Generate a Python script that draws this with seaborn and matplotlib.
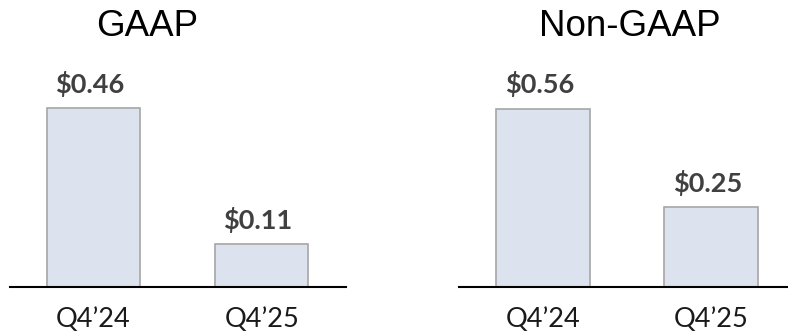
import matplotlib
matplotlib.use("Agg")
import matplotlib.pyplot as plt
import seaborn as sns
import pandas as pd

periods = ["Q4\u201924", "Q4\u201925"]
gaap_eps = [0.46, 0.11]
nongaap_eps = [0.56, 0.25]
panel_titles = ["GAAP", "Non-GAAP"]

sns.set_theme(style="white")
plt.rcParams["font.family"] = ["Lato", "DejaVu Sans"]

fig = plt.figure(figsize=(7.88, 3.34), dpi=100)
W, H = 788.0, 334.0

# axes rectangles in pixels: left, baseline(bottom), right, top
base_y = 287.0
top_y = 108.5
frac = 0.80  # fraction of axes height used by tallest bar
ax_h = (base_y - top_y) / frac
specs = [
    (9.5, 345.7, -0.5, 1.5, gaap_eps),
    (459.0, 795.0, -0.5, 1.5, nongaap_eps),
]
title_x = [146.7, 629.5]

for i, (l, r, x0, x1, vals) in enumerate(specs):
    ax = fig.add_axes([l / W, (H - base_y) / H, (r - l) / W, ax_h / H])
    df = pd.DataFrame({"period": periods, "eps": vals})
    sns.barplot(data=df, x="period", y="eps", ax=ax, color="#DCE3EE",
                edgecolor="#A6A6A6", linewidth=1.2, width=0.555,
                saturation=1.0)
    ax.set_xlim(x0, x1)
    ax.set_ylim(0, max(vals) / frac)
    for s in ["top", "right", "left"]:
        ax.spines[s].set_visible(False)
    ax.spines["bottom"].set_color("black")
    ax.spines["bottom"].set_linewidth(1.5)
    ax.set_yticks([])
    ax.set_xlabel("")
    ax.set_ylabel("")
    ax.tick_params(axis="x", length=0, pad=14.5, labelsize=19.5, labelcolor="#1a1a1a")
    for j, v in enumerate(vals):
        ax.annotate(f"${v:.2f}", (j, v), xytext=(-2.5, 11), textcoords="offset points",
                    ha="center", va="baseline", fontsize=19.5, fontweight="bold",
                    color="#404040")
    fig.text(title_x[i] / W, 1 - 26 / H, panel_titles[i], ha="center", va="center",
             fontsize=26.5, family=["Liberation Sans", "DejaVu Sans"], color="black")

fig.savefig("out.png", dpi=100)
